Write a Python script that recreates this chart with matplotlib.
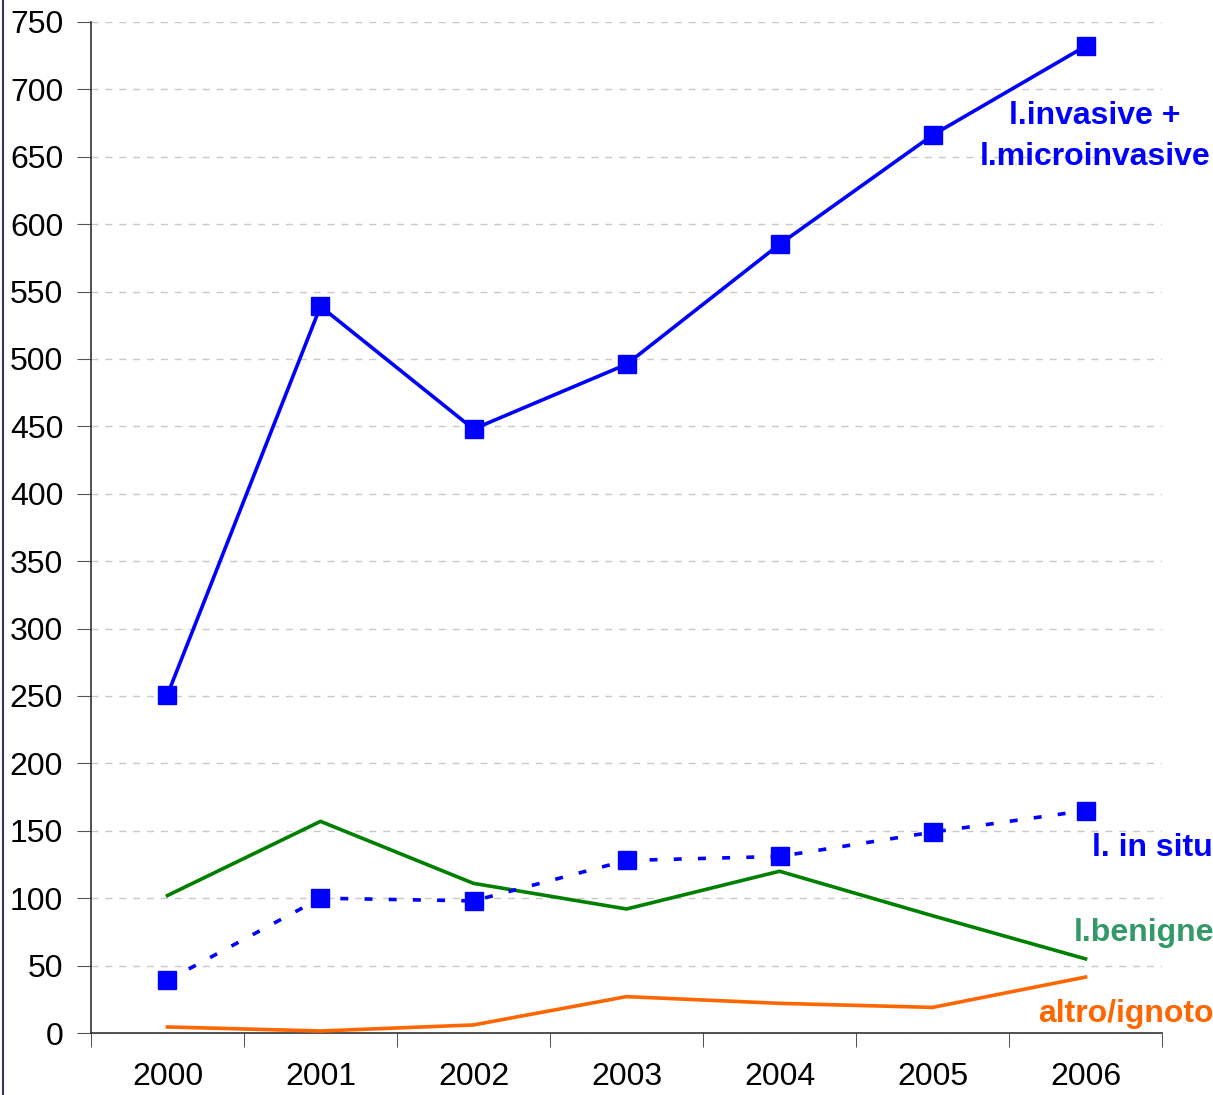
import matplotlib
matplotlib.use("Agg")
import matplotlib.pyplot as plt
import matplotlib.lines as mlines
from matplotlib.ticker import FixedLocator, NullFormatter

plt.rcParams['font.family'] = ['Liberation Sans', 'DejaVu Sans']

years = ['2000', '2001', '2002', '2003', '2004', '2005', '2006']
invasive = [251, 539, 448, 496, 585, 666, 732]
in_situ = [39, 100, 98, 128, 131, 149, 165]
benigne = [102, 157, 111, 92, 120, 87, 55]
altro = [4.5, 1.5, 6, 27, 22, 19, 41.5]

blue = '#0000FF'
green = '#008000'
green_txt = '#339966'
orange = '#FF6600'

fig = plt.figure(figsize=(12.13, 10.95), dpi=100)
ax = fig.add_axes([0.075, 0.0566, 0.883, 0.9234])

x = list(range(len(years)))

ax.plot(x, altro, color=orange, lw=2.6, zorder=3)
ax.plot(x, benigne, color=green, lw=2.6, zorder=3)
ax.plot(x, in_situ, color=blue, lw=2.6, ls=(0, (2.2, 4.5)), marker='s',
        markersize=13, zorder=4)
ax.plot(x, invasive, color=blue, lw=2.6, marker='s', markersize=13, zorder=5)

ax.set_xlim(-0.5, 6.5)
ax.set_ylim(0, 750)
ax.set_yticks(range(0, 751, 50))
ax.yaxis.grid(True, color='#C8C8C8', ls=(0, (5, 5)), lw=1)
ax.set_axisbelow(True)

ax.set_xticks(x)
ax.set_xticklabels(years)
ax.xaxis.set_minor_locator(FixedLocator([i - 0.5 for i in range(len(years) + 1)]))
ax.xaxis.set_minor_formatter(NullFormatter())
ax.tick_params(axis='x', which='major', length=0, pad=21, labelsize=23)
ax.tick_params(axis='x', which='minor', length=10, direction='out', color='#333333')
ax.tick_params(axis='y', length=10, direction='out', color='#555555', labelsize=23, pad=10)

for s in ['top', 'right']:
    ax.spines[s].set_visible(False)
ax.spines['left'].set_color('#333333')
ax.spines['bottom'].set_color('#333333')
ax.spines['left'].set_linewidth(1.2)
ax.spines['bottom'].set_linewidth(1.2)

ax.text(6.06, 665, 'l.invasive +\nl.microinvasive', color=blue, fontsize=23,
        fontweight='bold', ha='center', va='center', linespacing=1.45, clip_on=False)
ax.text(6.83, 137, 'l. in situ', color=blue, fontsize=23, fontweight='bold',
        ha='right', va='center', clip_on=False)
ax.text(6.84, 74, 'l.benigne', color=green_txt, fontsize=23, fontweight='bold',
        ha='right', va='center', clip_on=False)
ax.text(6.84, 14, 'altro/ignoto', color=orange, fontsize=23, fontweight='bold',
        ha='right', va='center', clip_on=False)

# thin frame line at the left edge of the slide
fig.add_artist(mlines.Line2D([0.0025, 0.0025], [0, 1], color='#333366', lw=1.5))

fig.savefig('out.png', dpi=100)
